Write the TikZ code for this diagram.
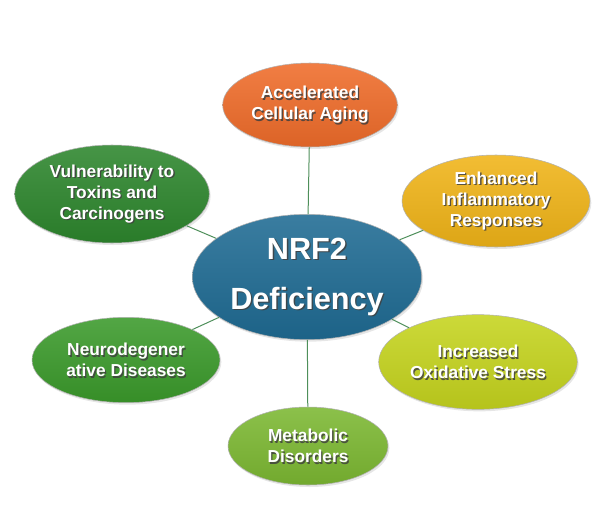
\documentclass[tikz,border=0pt]{standalone}
\usepackage{fontspec}
\setmainfont{Liberation Sans}
\usepackage{xcolor}
\usepackage{tikz}
\usetikzlibrary{shapes.geometric, positioning, shadows}
\definecolor{hubblue}{HTML}{1F6B93}
\definecolor{agingorange}{HTML}{EF6C2A}
\definecolor{toxgreen}{HTML}{2D862D}
\definecolor{inflamgold}{HTML}{F0B418}
\definecolor{neurogreen}{HTML}{3B9A2B}
\definecolor{oxidyellow}{HTML}{C5D41E}
\definecolor{metabgreen}{HTML}{7CB832}
\definecolor{linkgreen}{HTML}{4E8F5A}
\tikzstyle{bubble} = [ellipse, inner sep=0pt, draw=white!70!black, line width=0.4pt, drop shadow={opacity=0.2, shadow xshift=1pt, shadow yshift=-1.5pt}]
\tikzstyle{link} = [draw=linkgreen, line width=0.75pt]
\tikzstyle{bubtext} = [align=center, text=white, font=\bfseries\fontsize{13}{15.75}\selectfont]
\tikzstyle{hubtext} = [align=center, text=white, font=\bfseries\fontsize{23}{37.5}\selectfont]
\tikzset{glossy/.style={top color=#1!88!white, middle color=#1, bottom color=#1!92!black}}
% white text with a dark shadow under it
\newcommand{\bubtxt}[3]{%
  \node[#2, text=black!75, opacity=0.85] (#1-shadow) at ([shift={(1pt,-1.1pt)}]#1.center) {#3};
  \node[#2] (#1-text) at (#1.center) {#3};}

\begin{document}
\begin{tikzpicture}[x=0.75pt, y=-0.75pt]
		\useasboundingbox (0,0) rectangle (610,525);
		\node (Hub)[bubble, glossy=hubblue, minimum width=172pt, minimum height=94pt] at (307,277) {};
		\node (Aging)[bubble, glossy=agingorange, minimum width=131pt, minimum height=63pt] at (310,105) {};
		\node (Toxins)[bubble, glossy=toxgreen, minimum width=146pt, minimum height=73.5pt] at (112,194) {};
		\node (Inflammatory)[bubble, glossy=inflamgold, minimum width=141pt, minimum height=69pt] at (496,201) {};
		\node (Neuro)[bubble, glossy=neurogreen, minimum width=141pt, minimum height=64pt] at (126,360) {};
		\node (Oxidative)[bubble, glossy=oxidyellow, minimum width=149pt, minimum height=71pt] at (478,362) {};
		\node (Metabolic)[bubble, glossy=metabgreen, minimum width=120pt, minimum height=58.5pt] at (308,446) {};
		\draw [link] (Hub) -- (Aging);
		\draw [link] (Hub) -- (Toxins);
		\draw [link] (Hub) -- (Inflammatory);
		\draw [link] (Hub) -- (Neuro);
		\draw [link] (Hub) -- (Oxidative);
		\draw [link] (Hub) -- (Metabolic);
		\bubtxt{Hub}{hubtext}{NRF2\\Deficiency}
		\bubtxt{Aging}{bubtext}{Accelerated\\Cellular Aging}
		\bubtxt{Toxins}{bubtext}{Vulnerability to\\Toxins and\\Carcinogens}
		\bubtxt{Inflammatory}{bubtext}{Enhanced\\Inflammatory\\Responses}
		\bubtxt{Neuro}{bubtext}{Neurodegener\\ative Diseases}
		\bubtxt{Oxidative}{bubtext}{Increased\\Oxidative Stress}
		\bubtxt{Metabolic}{bubtext}{Metabolic\\Disorders}
	\end{tikzpicture}
\end{document}
